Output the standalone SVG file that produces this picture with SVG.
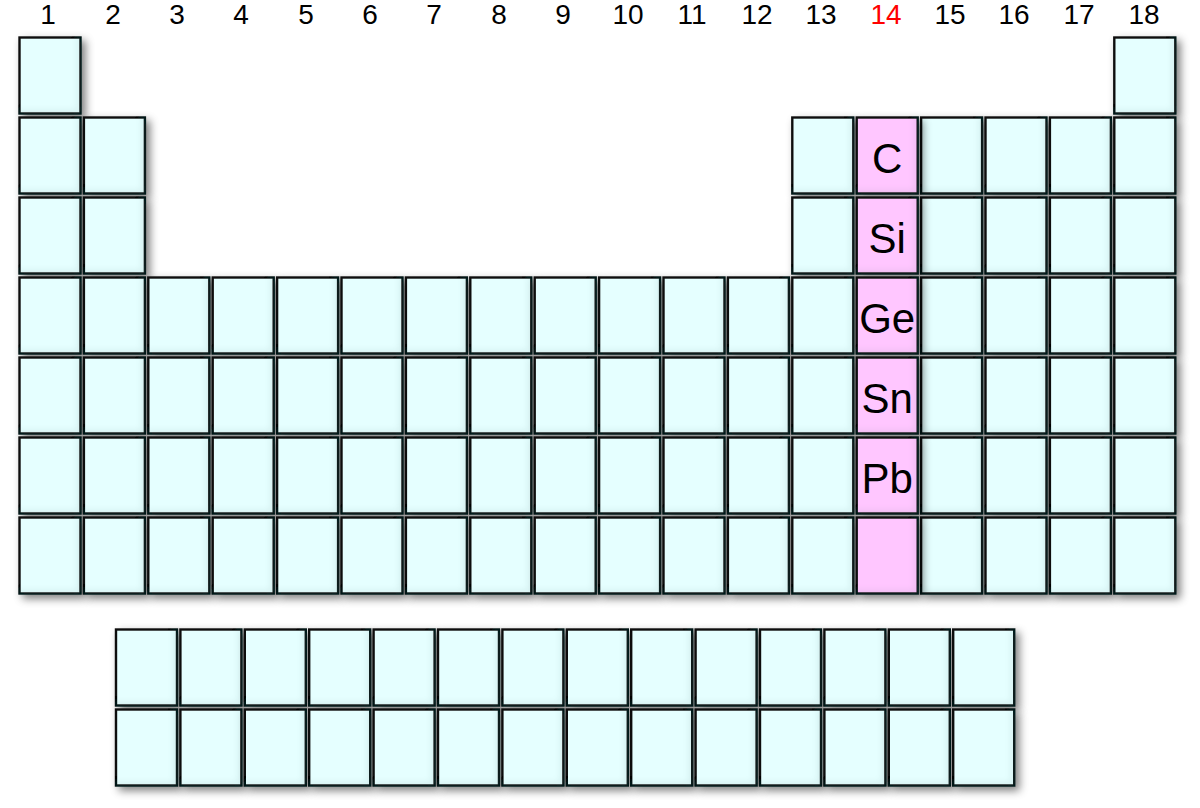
<svg xmlns="http://www.w3.org/2000/svg" width="1200" height="808" viewBox="0 0 1200 808">
<style>
.c{fill:#e5ffff;stroke:#111;stroke-width:2.4;filter:url(#sh)}
.p{fill:#ffc6ff;stroke:#111;stroke-width:2.4;filter:url(#sh)}
.n{font-family:"Liberation Sans",Arial,sans-serif;font-size:28px;fill:#000;text-anchor:middle}
.s{font-family:"Liberation Sans",Arial,sans-serif;font-size:42px;fill:#000;text-anchor:middle}
</style>
<defs>
<filter id="sh" x="-30%" y="-30%" width="160%" height="160%">
<feGaussianBlur in="SourceAlpha" stdDeviation="4"/>
<feOffset dx="4" dy="4" result="b"/>
<feFlood flood-color="#000" flood-opacity="0.5"/>
<feComposite in2="b" operator="in" result="ds"/>
<feOffset in="SourceAlpha" dx="-4" dy="-4" result="o"/>
<feComposite in="SourceAlpha" in2="o" operator="out" result="edge"/>
<feGaussianBlur in="edge" stdDeviation="3" result="eb"/>
<feComposite in="eb" in2="SourceAlpha" operator="in" result="inner"/>
<feFlood flood-color="#2a6b6b" flood-opacity="0.2"/>
<feComposite in2="inner" operator="in" result="innerc"/>
<feMerge><feMergeNode in="ds"/><feMergeNode in="SourceGraphic"/><feMergeNode in="innerc"/></feMerge>
</filter>
</defs>
<g id="group-numbers">
<text class="n" x="48" y="24">1</text>
<text class="n" x="113" y="24">2</text>
<text class="n" x="177" y="24">3</text>
<text class="n" x="241" y="24">4</text>
<text class="n" x="306" y="24">5</text>
<text class="n" x="370" y="24">6</text>
<text class="n" x="434" y="24">7</text>
<text class="n" x="499" y="24">8</text>
<text class="n" x="563" y="24">9</text>
<text class="n" x="628" y="24">10</text>
<text class="n" x="692" y="24">11</text>
<text class="n" x="757" y="24">12</text>
<text class="n" x="821" y="24">13</text>
<text class="n" x="886" y="24" style="fill:#ff0000">14</text>
<text class="n" x="950" y="24">15</text>
<text class="n" x="1014" y="24">16</text>
<text class="n" x="1079" y="24">17</text>
<text class="n" x="1144" y="24">18</text>
</g>
<g id="row1">
<g id="r1c1"><rect class="c" x="19.5" y="37.5" width="61" height="76"/></g>
<g id="r1c18"><rect class="c" x="1114.3" y="37.5" width="61" height="76"/></g>
</g>
<g id="row2">
<g id="r2c1"><rect class="c" x="19.5" y="117.5" width="61" height="76"/></g>
<g id="r2c2"><rect class="c" x="83.9" y="117.5" width="61" height="76"/></g>
<g id="r2c13"><rect class="c" x="792.3" y="117.5" width="61" height="76"/></g>
<g id="r2c15"><rect class="c" x="921.1" y="117.5" width="61" height="76"/></g>
<g id="r2c16"><rect class="c" x="985.5" y="117.5" width="61" height="76"/></g>
<g id="r2c17"><rect class="c" x="1049.9" y="117.5" width="61" height="76"/></g>
<g id="r2c18"><rect class="c" x="1114.3" y="117.5" width="61" height="76"/></g>
</g>
<g id="row3">
<g id="r3c1"><rect class="c" x="19.5" y="197.5" width="61" height="76"/></g>
<g id="r3c2"><rect class="c" x="83.9" y="197.5" width="61" height="76"/></g>
<g id="r3c13"><rect class="c" x="792.3" y="197.5" width="61" height="76"/></g>
<g id="r3c15"><rect class="c" x="921.1" y="197.5" width="61" height="76"/></g>
<g id="r3c16"><rect class="c" x="985.5" y="197.5" width="61" height="76"/></g>
<g id="r3c17"><rect class="c" x="1049.9" y="197.5" width="61" height="76"/></g>
<g id="r3c18"><rect class="c" x="1114.3" y="197.5" width="61" height="76"/></g>
</g>
<g id="row4">
<g id="r4c1"><rect class="c" x="19.5" y="277.5" width="61" height="76"/></g>
<g id="r4c2"><rect class="c" x="83.9" y="277.5" width="61" height="76"/></g>
<g id="r4c3"><rect class="c" x="148.3" y="277.5" width="61" height="76"/></g>
<g id="r4c4"><rect class="c" x="212.7" y="277.5" width="61" height="76"/></g>
<g id="r4c5"><rect class="c" x="277.1" y="277.5" width="61" height="76"/></g>
<g id="r4c6"><rect class="c" x="341.5" y="277.5" width="61" height="76"/></g>
<g id="r4c7"><rect class="c" x="405.9" y="277.5" width="61" height="76"/></g>
<g id="r4c8"><rect class="c" x="470.3" y="277.5" width="61" height="76"/></g>
<g id="r4c9"><rect class="c" x="534.7" y="277.5" width="61" height="76"/></g>
<g id="r4c10"><rect class="c" x="599.1" y="277.5" width="61" height="76"/></g>
<g id="r4c11"><rect class="c" x="663.5" y="277.5" width="61" height="76"/></g>
<g id="r4c12"><rect class="c" x="727.9" y="277.5" width="61" height="76"/></g>
<g id="r4c13"><rect class="c" x="792.3" y="277.5" width="61" height="76"/></g>
<g id="r4c15"><rect class="c" x="921.1" y="277.5" width="61" height="76"/></g>
<g id="r4c16"><rect class="c" x="985.5" y="277.5" width="61" height="76"/></g>
<g id="r4c17"><rect class="c" x="1049.9" y="277.5" width="61" height="76"/></g>
<g id="r4c18"><rect class="c" x="1114.3" y="277.5" width="61" height="76"/></g>
</g>
<g id="row5">
<g id="r5c1"><rect class="c" x="19.5" y="357.5" width="61" height="76"/></g>
<g id="r5c2"><rect class="c" x="83.9" y="357.5" width="61" height="76"/></g>
<g id="r5c3"><rect class="c" x="148.3" y="357.5" width="61" height="76"/></g>
<g id="r5c4"><rect class="c" x="212.7" y="357.5" width="61" height="76"/></g>
<g id="r5c5"><rect class="c" x="277.1" y="357.5" width="61" height="76"/></g>
<g id="r5c6"><rect class="c" x="341.5" y="357.5" width="61" height="76"/></g>
<g id="r5c7"><rect class="c" x="405.9" y="357.5" width="61" height="76"/></g>
<g id="r5c8"><rect class="c" x="470.3" y="357.5" width="61" height="76"/></g>
<g id="r5c9"><rect class="c" x="534.7" y="357.5" width="61" height="76"/></g>
<g id="r5c10"><rect class="c" x="599.1" y="357.5" width="61" height="76"/></g>
<g id="r5c11"><rect class="c" x="663.5" y="357.5" width="61" height="76"/></g>
<g id="r5c12"><rect class="c" x="727.9" y="357.5" width="61" height="76"/></g>
<g id="r5c13"><rect class="c" x="792.3" y="357.5" width="61" height="76"/></g>
<g id="r5c15"><rect class="c" x="921.1" y="357.5" width="61" height="76"/></g>
<g id="r5c16"><rect class="c" x="985.5" y="357.5" width="61" height="76"/></g>
<g id="r5c17"><rect class="c" x="1049.9" y="357.5" width="61" height="76"/></g>
<g id="r5c18"><rect class="c" x="1114.3" y="357.5" width="61" height="76"/></g>
</g>
<g id="row6">
<g id="r6c1"><rect class="c" x="19.5" y="437.5" width="61" height="76"/></g>
<g id="r6c2"><rect class="c" x="83.9" y="437.5" width="61" height="76"/></g>
<g id="r6c3"><rect class="c" x="148.3" y="437.5" width="61" height="76"/></g>
<g id="r6c4"><rect class="c" x="212.7" y="437.5" width="61" height="76"/></g>
<g id="r6c5"><rect class="c" x="277.1" y="437.5" width="61" height="76"/></g>
<g id="r6c6"><rect class="c" x="341.5" y="437.5" width="61" height="76"/></g>
<g id="r6c7"><rect class="c" x="405.9" y="437.5" width="61" height="76"/></g>
<g id="r6c8"><rect class="c" x="470.3" y="437.5" width="61" height="76"/></g>
<g id="r6c9"><rect class="c" x="534.7" y="437.5" width="61" height="76"/></g>
<g id="r6c10"><rect class="c" x="599.1" y="437.5" width="61" height="76"/></g>
<g id="r6c11"><rect class="c" x="663.5" y="437.5" width="61" height="76"/></g>
<g id="r6c12"><rect class="c" x="727.9" y="437.5" width="61" height="76"/></g>
<g id="r6c13"><rect class="c" x="792.3" y="437.5" width="61" height="76"/></g>
<g id="r6c15"><rect class="c" x="921.1" y="437.5" width="61" height="76"/></g>
<g id="r6c16"><rect class="c" x="985.5" y="437.5" width="61" height="76"/></g>
<g id="r6c17"><rect class="c" x="1049.9" y="437.5" width="61" height="76"/></g>
<g id="r6c18"><rect class="c" x="1114.3" y="437.5" width="61" height="76"/></g>
</g>
<g id="row7">
<g id="r7c1"><rect class="c" x="19.5" y="517.5" width="61" height="76"/></g>
<g id="r7c2"><rect class="c" x="83.9" y="517.5" width="61" height="76"/></g>
<g id="r7c3"><rect class="c" x="148.3" y="517.5" width="61" height="76"/></g>
<g id="r7c4"><rect class="c" x="212.7" y="517.5" width="61" height="76"/></g>
<g id="r7c5"><rect class="c" x="277.1" y="517.5" width="61" height="76"/></g>
<g id="r7c6"><rect class="c" x="341.5" y="517.5" width="61" height="76"/></g>
<g id="r7c7"><rect class="c" x="405.9" y="517.5" width="61" height="76"/></g>
<g id="r7c8"><rect class="c" x="470.3" y="517.5" width="61" height="76"/></g>
<g id="r7c9"><rect class="c" x="534.7" y="517.5" width="61" height="76"/></g>
<g id="r7c10"><rect class="c" x="599.1" y="517.5" width="61" height="76"/></g>
<g id="r7c11"><rect class="c" x="663.5" y="517.5" width="61" height="76"/></g>
<g id="r7c12"><rect class="c" x="727.9" y="517.5" width="61" height="76"/></g>
<g id="r7c13"><rect class="c" x="792.3" y="517.5" width="61" height="76"/></g>
<g id="r7c15"><rect class="c" x="921.1" y="517.5" width="61" height="76"/></g>
<g id="r7c16"><rect class="c" x="985.5" y="517.5" width="61" height="76"/></g>
<g id="r7c17"><rect class="c" x="1049.9" y="517.5" width="61" height="76"/></g>
<g id="r7c18"><rect class="c" x="1114.3" y="517.5" width="61" height="76"/></g>
</g>
<g id="group14">
<g id="C"><rect class="p" x="856.7" y="117.5" width="61" height="76"/><text class="s" x="887.2" y="173">C</text></g>
<g id="Si"><rect class="p" x="856.7" y="197.5" width="61" height="76"/><text class="s" x="887.2" y="253">Si</text></g>
<g id="Ge"><rect class="p" x="856.7" y="277.5" width="61" height="76"/><text class="s" x="887.2" y="333">Ge</text></g>
<g id="Sn"><rect class="p" x="856.7" y="357.5" width="61" height="76"/><text class="s" x="887.2" y="413">Sn</text></g>
<g id="Pb"><rect class="p" x="856.7" y="437.5" width="61" height="76"/><text class="s" x="887.2" y="493">Pb</text></g>
<g id="r7c14"><rect class="p" x="856.7" y="517.5" width="61" height="76"/></g>
</g>
<g id="f-block-row1">
<g id="f1k1"><rect class="c" x="116" y="629.5" width="61" height="76"/></g>
<g id="f1k2"><rect class="c" x="180.4" y="629.5" width="61" height="76"/></g>
<g id="f1k3"><rect class="c" x="244.8" y="629.5" width="61" height="76"/></g>
<g id="f1k4"><rect class="c" x="309.2" y="629.5" width="61" height="76"/></g>
<g id="f1k5"><rect class="c" x="373.6" y="629.5" width="61" height="76"/></g>
<g id="f1k6"><rect class="c" x="438" y="629.5" width="61" height="76"/></g>
<g id="f1k7"><rect class="c" x="502.4" y="629.5" width="61" height="76"/></g>
<g id="f1k8"><rect class="c" x="566.8" y="629.5" width="61" height="76"/></g>
<g id="f1k9"><rect class="c" x="631.2" y="629.5" width="61" height="76"/></g>
<g id="f1k10"><rect class="c" x="695.6" y="629.5" width="61" height="76"/></g>
<g id="f1k11"><rect class="c" x="760" y="629.5" width="61" height="76"/></g>
<g id="f1k12"><rect class="c" x="824.4" y="629.5" width="61" height="76"/></g>
<g id="f1k13"><rect class="c" x="888.8" y="629.5" width="61" height="76"/></g>
<g id="f1k14"><rect class="c" x="953.2" y="629.5" width="61" height="76"/></g>
</g>
<g id="f-block-row2">
<g id="f2k1"><rect class="c" x="116" y="709.5" width="61" height="76"/></g>
<g id="f2k2"><rect class="c" x="180.4" y="709.5" width="61" height="76"/></g>
<g id="f2k3"><rect class="c" x="244.8" y="709.5" width="61" height="76"/></g>
<g id="f2k4"><rect class="c" x="309.2" y="709.5" width="61" height="76"/></g>
<g id="f2k5"><rect class="c" x="373.6" y="709.5" width="61" height="76"/></g>
<g id="f2k6"><rect class="c" x="438" y="709.5" width="61" height="76"/></g>
<g id="f2k7"><rect class="c" x="502.4" y="709.5" width="61" height="76"/></g>
<g id="f2k8"><rect class="c" x="566.8" y="709.5" width="61" height="76"/></g>
<g id="f2k9"><rect class="c" x="631.2" y="709.5" width="61" height="76"/></g>
<g id="f2k10"><rect class="c" x="695.6" y="709.5" width="61" height="76"/></g>
<g id="f2k11"><rect class="c" x="760" y="709.5" width="61" height="76"/></g>
<g id="f2k12"><rect class="c" x="824.4" y="709.5" width="61" height="76"/></g>
<g id="f2k13"><rect class="c" x="888.8" y="709.5" width="61" height="76"/></g>
<g id="f2k14"><rect class="c" x="953.2" y="709.5" width="61" height="76"/></g>
</g>
</svg>
